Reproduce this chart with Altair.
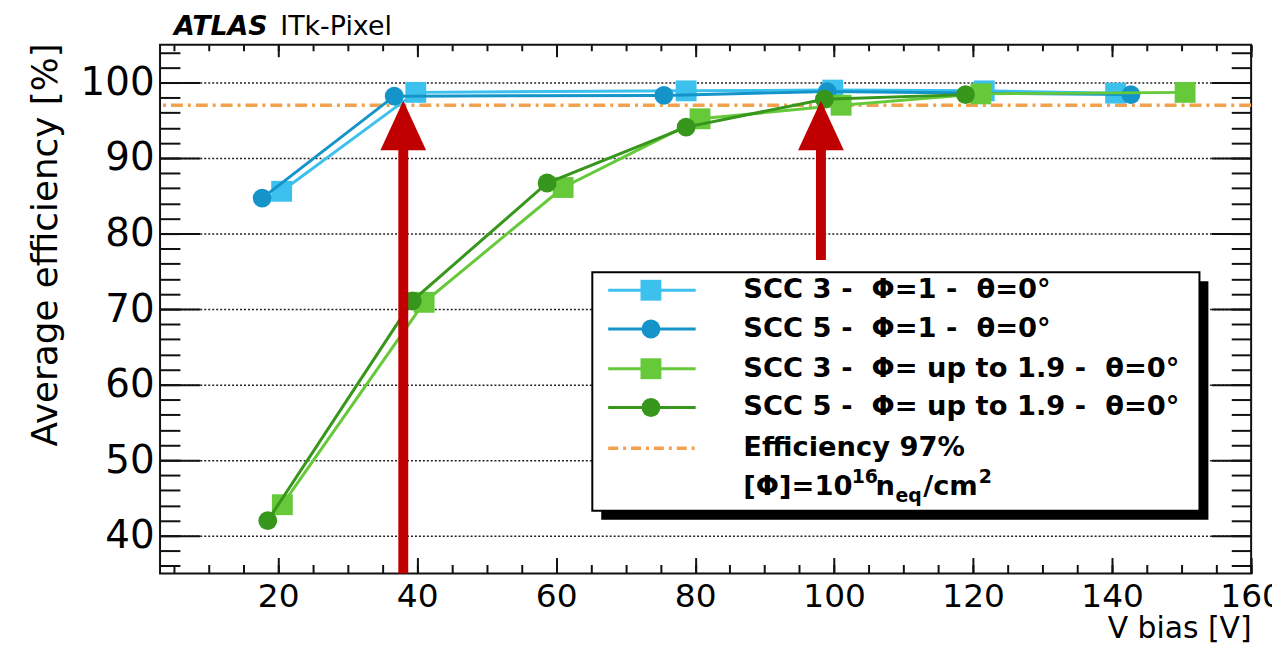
import altair as alt
import pandas as pd

# ---------------- data ----------------
NB = "\u00a0"
series_names = [
    f"SCC 3 -{NB} Φ=1 -{NB} θ=0°",
    f"SCC 5 -{NB} Φ=1 -{NB} θ=0°",
    f"SCC 3 -{NB} Φ= up to 1.9 -{NB} θ=0°",
    f"SCC 5 -{NB} Φ= up to 1.9 -{NB} θ=0°",
]
scc3_phi1_v = [20.5, 39.8, 78.7, 99.8, 121.6, 140.5]
scc3_phi1_eff = [85.6, 98.7, 98.9, 99.0, 98.9, 98.6]
scc5_phi1_v = [17.7, 36.7, 75.5, 99.0, 142.7]
scc5_phi1_eff = [84.7, 98.2, 98.3, 98.8, 98.4]
scc3_phi19_v = [20.6, 41.0, 61.0, 80.7, 101.0, 121.1, 150.5]
scc3_phi19_eff = [44.1, 70.9, 86.1, 95.2, 97.0, 98.5, 98.7]
scc5_phi19_v = [18.5, 39.3, 58.7, 78.7, 98.6, 118.9]
scc5_phi19_eff = [42.0, 71.1, 86.7, 94.1, 97.8, 98.4]

threshold_label = "Efficiency 97%"
threshold_eff = [97.0]

fluence_parts = ["[Φ]=10", "16", "n", "eq", "/cm", "2"]

arrow_v = [38.0, 98.1]
arrow_from = [35.0, 76.5]
arrow_shaft_end = [92.0, 92.0]
arrow_tip = [97.6, 97.6]

x_major = [20, 40, 60, 80, 100, 120, 140, 160]
x_minor = list(range(5, 161, 5))
y_major = [40, 50, 60, 70, 80, 90, 100]
y_minor = list(range(36, 105, 2))

title_bold = "ATLAS"
title_rest = "ITk-Pixel"
x_title = "V bias [V]"
y_title = "Average efficiency [%]"

# ---------------- styles ----------------
colors = ["#3CC0EE", "#1494C8", "#66C93A", "#37961C"]
shapes = ["square", "circle", "square", "circle"]
ORANGE = "#F2A24E"
RED = "#C00000"
FONT = "DejaVu Sans"
W, H = 1098, 532

xs = alt.Scale(domain=[3, 160], nice=False, zero=False)
ys = alt.Scale(domain=[35, 105], nice=False, zero=False)

series_v = [scc3_phi1_v, scc5_phi1_v, scc3_phi19_v, scc5_phi19_v]
series_eff = [scc3_phi1_eff, scc5_phi1_eff, scc3_phi19_eff, scc5_phi19_eff]

layers = []

# main axes layer (labels, titles, grid)
d_axes = pd.DataFrame({"v": scc3_phi1_v, "eff": scc3_phi1_eff})
layers.append(
    alt.Chart(d_axes).mark_point(opacity=0).encode(
        x=alt.X("v:Q", scale=xs, title=x_title, axis=alt.Axis(
            orient="bottom", values=x_major, ticks=False, tickSize=0, domain=False, grid=False,
            labelFont=FONT, labelFontSize=33, labelColor="black", labelPadding=7,
            labelFlush=False, labelOverlap=False,
            titleFont=FONT, titleFontSize=30, titleFontWeight="normal", titleColor="black",
            titleX=W, titleY=64, titleAlign="right", titleBaseline="alphabetic", titleAngle=0)),
        y=alt.Y("eff:Q", scale=ys, title=y_title, axis=alt.Axis(
            orient="left", values=y_major, ticks=False, tickSize=0, domain=False,
            grid=True, gridDash=[2, 2], gridColor="#222", gridWidth=1.5,
            labelFont=FONT, labelFontSize=39, labelColor="black", labelPadding=6,
            labelFlush=False, labelOverlap=False,
            titleFont=FONT, titleFontSize=36, titleFontWeight="normal", titleColor="black",
            titleX=-104, titleY=-2, titleAlign="right", titleBaseline="alphabetic", titleAngle=270)),
    )
)


def tick_layer(xorient, xvals, xsize, yorient, yvals, ysize):
    return alt.Chart(d_axes).mark_point(opacity=0).encode(
        x=alt.X("v:Q", scale=xs, title=None, axis=alt.Axis(
            orient=xorient, values=xvals, tickSize=xsize, offset=-xsize, labels=False,
            domain=False, grid=False, tickColor="#111", tickWidth=2)),
        y=alt.Y("eff:Q", scale=ys, title=None, axis=alt.Axis(
            orient=yorient, values=yvals, tickSize=ysize, offset=-ysize, labels=False,
            domain=False, grid=False, tickColor="#111", tickWidth=2)),
    )


layers.append(tick_layer("bottom", x_major, 16, "left", y_major, 40))
layers.append(tick_layer("bottom", x_minor, 9, "left", y_minor, 20))
layers.append(tick_layer("top", x_major, 12, "right", y_major, 40))
layers.append(tick_layer("top", x_minor, 6, "right", y_minor, 20))

# efficiency threshold line
d_thr = pd.DataFrame({"eff": threshold_eff})
layers.append(
    alt.Chart(d_thr).mark_rule(color=ORANGE, strokeWidth=3.5, strokeDash=[12, 5, 3, 5]).encode(
        y=alt.Y("eff:Q", scale=ys, axis=None)
    )
)

# series
for name, v, eff, col, shp in zip(series_names, series_v, series_eff, colors, shapes):
    d = pd.DataFrame({"v": v, "eff": eff, "series": name})
    base = alt.Chart(d).encode(
        x=alt.X("v:Q", scale=xs, axis=None),
        y=alt.Y("eff:Q", scale=ys, axis=None),
    )
    layers.append(base.mark_line(color=col, strokeWidth=3))
    layers.append(base.mark_point(shape=shp, filled=True, opacity=1, color=col,
                                  size=441 if shp == "square" else 360))

# red arrows
d_arr = pd.DataFrame({"v": arrow_v, "from": arrow_from, "shaft": arrow_shaft_end, "tip": arrow_tip})
layers.append(
    alt.Chart(d_arr).mark_rule(color=RED, strokeWidth=10).encode(
        x=alt.X("v:Q", scale=xs, axis=None),
        y=alt.Y("from:Q", scale=ys, axis=None),
        y2="shaft:Q",
    )
)
layers.append(
    alt.Chart(d_arr).mark_point(shape="M0,0L0.92,2L-0.92,2Z", filled=True, opacity=1,
                                color=RED, size=2500).encode(
        x=alt.X("v:Q", scale=xs, axis=None),
        y=alt.Y("tip:Q", scale=ys, axis=None),
    )
)

# ---------------- legend (built from marks) ----------------
one = pd.DataFrame({"k": [0]})
BX0, BX1, BY0, BY1 = 435, 1046, 229, 469
SH = 9
layers.append(alt.Chart(one).mark_rect(color="black").encode(
    x=alt.value(BX0 + SH), x2=alt.value(BX1 + SH), y=alt.value(BY0 + SH), y2=alt.value(BY1 + SH)))
layers.append(alt.Chart(one).mark_rect(fill="white", stroke="black", strokeWidth=2).encode(
    x=alt.value(BX0), x2=alt.value(BX1), y=alt.value(BY0), y2=alt.value(BY1)))

row_y = [247, 286, 326, 365, 406, 445]
LX0, LX1, LXM, TX = 451, 539, 494, 587
LFS = 27.5
for i, (name, col, shp) in enumerate(zip(series_names, colors, shapes)):
    yy = row_y[i]
    layers.append(alt.Chart(one).mark_rule(color=col, strokeWidth=3).encode(
        x=alt.value(LX0), x2=alt.value(LX1), y=alt.value(yy)))
    layers.append(alt.Chart(one).mark_point(shape=shp, filled=True, opacity=1, color=col,
                                            size=441 if shp == "square" else 360).encode(
        x=alt.value(LXM), y=alt.value(yy)))
    layers.append(alt.Chart(pd.DataFrame({"label": [name]})).mark_text(
        align="left", baseline="middle", font=FONT, fontWeight="bold", fontSize=LFS, color="black"
    ).encode(x=alt.value(TX), y=alt.value(yy), text="label:N"))

layers.append(alt.Chart(one).mark_rule(color=ORANGE, strokeWidth=3.5, strokeDash=[10, 5, 3, 5]).encode(
    x=alt.value(LX0), x2=alt.value(LX1), y=alt.value(row_y[4])))
layers.append(alt.Chart(pd.DataFrame({"label": [threshold_label]})).mark_text(
    align="left", baseline="middle", font=FONT, fontWeight="bold", fontSize=LFS, color="black"
).encode(x=alt.value(TX), y=alt.value(row_y[4]), text="label:N"))

# fluence line with super/subscripts
part_dx = [0, 109, 133, 153, 181, 237]
part_dy = [0, -10, 0, 9, 0, -10]
part_fs = [LFS, 19, LFS, 19, LFS, 19]
for txt, dx, dy, fs in zip(fluence_parts, part_dx, part_dy, part_fs):
    layers.append(alt.Chart(pd.DataFrame({"label": [txt]})).mark_text(
        align="left", baseline="middle", font=FONT, fontWeight="bold", fontSize=fs, color="black"
    ).encode(x=alt.value(TX + dx), y=alt.value(row_y[5] + dy), text="label:N"))

# header
layers.append(alt.Chart(pd.DataFrame({"label": [title_bold]})).mark_text(
    align="left", baseline="alphabetic", font=FONT, fontWeight="bold", fontStyle="italic",
    fontSize=27, color="black").encode(x=alt.value(14), y=alt.value(-10), text="label:N"))
layers.append(alt.Chart(pd.DataFrame({"label": [title_rest]})).mark_text(
    align="left", baseline="alphabetic", font=FONT, fontSize=27, color="black"
).encode(x=alt.value(121), y=alt.value(-10), text="label:N"))

chart = (
    alt.layer(*layers)
    .resolve_axis(x="independent", y="independent")
    .properties(
        width=W, height=H,
        padding={"left": 153, "top": 35, "right": 21, "bottom": 72},
        autosize=alt.AutoSizeParams(type="none"),
        background="white",
    )
    .configure_view(stroke="#111", strokeWidth=2)
)

chart.save("out.html", embed_options={"renderer": "svg", "actions": False})
